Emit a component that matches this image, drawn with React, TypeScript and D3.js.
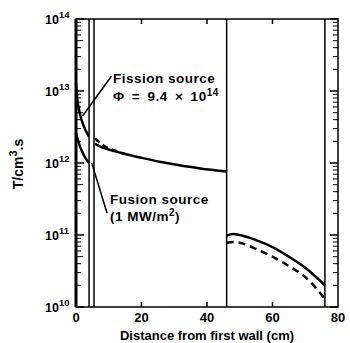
import React from 'react';
import * as d3 from 'd3';

// distance (cm) and tritium production values
const firstX = [0, 0.3, 0.7, 1.2, 2, 3, 4];
const firstSolid = [1.3e13, 8.5e12, 6.2e12, 4.8e12, 3.6e12, 2.8e12, 2.3e12];
const firstDashed = [2.6e12, 2.3e12, 2.0e12, 1.7e12, 1.4e12, 1.15e12, 1.0e12];

const midX = [5.8, 8, 12, 16, 20, 26, 32, 38, 46];
const midSolid = [1.85e12, 1.65e12, 1.45e12, 1.3e12, 1.18e12, 1.03e12, 0.92e12, 0.84e12, 0.76e12];
const midDashed = [2.2e12, 1.8e12, 1.48e12, 1.3e12];

const blanketX = [46, 48, 50, 55, 60, 65, 70, 76];
const blanketSolid = [0.98e11, 1.03e11, 1.0e11, 0.85e11, 0.68e11, 0.5e11, 0.35e11, 0.2e11];
const blanketDashed = [0.78e11, 0.8e11, 0.78e11, 0.64e11, 0.5e11, 0.37e11, 0.26e11, 0.13e11];

const wallLines = [4, 5.5, 46, 76];
const xTicks = [0, 20, 40, 60, 80];
const yExps = [10, 11, 12, 13, 14];

const W = 350, H = 343;
const left = 76, right = 338, top = 19, bottom = 307;
const font = '"Liberation Sans", Arial, sans-serif';

export default function App() {
  const x = d3.scaleLinear().domain([0, 80]).range([left, right]);
  const y = d3.scaleLog().domain([1e10, 1e14]).range([bottom, top]);
  const line = d3.line<[number, number]>()
    .x((d) => x(d[0]))
    .y((d) => y(d[1]))
    .curve(d3.curveMonotoneX);

  const seg = (xs: number[], ys: number[]) => line(xs.map((v, i) => [v, ys[i]] as [number, number])) || '';

  const minor: number[] = [];
  for (let e = 10; e < 14; e++) for (let k = 2; k <= 9; k++) minor.push(k * Math.pow(10, e));

  return (
    <svg width={W} height={H} style={{ position: 'absolute', left: 0, top: 0, background: '#fff' }}>
      {/* frame */}
      <rect x={left} y={top} width={right - left} height={bottom - top} fill="none" stroke="#000" strokeWidth={1.5} />
      <line x1={left} x2={left} y1={top} y2={bottom} stroke="#000" strokeWidth={3} />

      {/* y ticks */}
      {yExps.map((e) => (
        <g key={'ye' + e}>
          <line x1={left} x2={left + 8} y1={y(Math.pow(10, e))} y2={y(Math.pow(10, e))} stroke="#000" strokeWidth={1.5} />
          <line x1={right} x2={right - 8} y1={y(Math.pow(10, e))} y2={y(Math.pow(10, e))} stroke="#000" strokeWidth={1.5} />
          <text x={left - 17} y={y(Math.pow(10, e)) + 5} textAnchor="end" fontFamily={font} fontWeight="bold" fontSize={12.5}>10</text>
          <text x={left - 17} y={y(Math.pow(10, e)) - 1} fontFamily={font} fontWeight="bold" fontSize={9.5}>{e}</text>
        </g>
      ))}
      {minor.map((v, i) => (
        <g key={'ym' + i}>
          <line x1={left} x2={left + (i % 8 === 3 ? 7 : 5)} y1={y(v)} y2={y(v)} stroke="#000" strokeWidth={1} />
          <line x1={right} x2={right - 5} y1={y(v)} y2={y(v)} stroke="#000" strokeWidth={1} />
        </g>
      ))}

      {/* x ticks */}
      {xTicks.map((t) => (
        <g key={'xt' + t}>
          {t > 0 && t < 80 && (
            <>
              <line x1={x(t)} x2={x(t)} y1={bottom} y2={bottom - 5} stroke="#000" strokeWidth={1.5} />
              <line x1={x(t)} x2={x(t)} y1={top} y2={top + 5} stroke="#000" strokeWidth={1.5} />
            </>
          )}
          <text x={x(t)} y={bottom + 15} textAnchor="middle" fontFamily={font} fontWeight="bold" fontSize={13}>{t}</text>
        </g>
      ))}

      {/* region boundaries */}
      {wallLines.map((w, i) => (
        <line key={'w' + i} x1={x(w)} x2={x(w)} y1={top} y2={bottom} stroke="#000" strokeWidth={1.5} />
      ))}

      {/* curves */}
      <path d={seg(firstX, firstSolid)} fill="none" stroke="#000" strokeWidth={2.5} />
      <path d={seg(firstX, firstDashed)} fill="none" stroke="#000" strokeWidth={2.5} />
      <path d={seg(midX, midSolid)} fill="none" stroke="#000" strokeWidth={2.5} />
      <path d={seg(midX.slice(0, 4), midDashed)} fill="none" stroke="#000" strokeWidth={2.5} strokeDasharray="6,4" />
      <path d={seg(blanketX, blanketSolid)} fill="none" stroke="#000" strokeWidth={2.5} />
      <path d={seg(blanketX, blanketDashed)} fill="none" stroke="#000" strokeWidth={2.5} strokeDasharray="7,5" />

      {/* annotations */}
      <line x1={x(10.8)} y1={y(1.6e13)} x2={x(2)} y2={y(4.5e12)} stroke="#000" strokeWidth={1.5} />
      <line x1={x(9.5)} y1={y(2.0e11)} x2={x(4.8)} y2={y(1.0e12)} stroke="#000" strokeWidth={1.5} />
      <g fontFamily={font} fontWeight="bold" fontSize={13.5} letterSpacing={0.5}>
        <text x={113} y={83}>Fission source</text>
        <text x={113} y={101} wordSpacing={3}>
          Φ = 9.4 × 10<tspan dy={-5} fontSize={10}>14</tspan>
        </text>
        <text x={110} y={204}>Fusion source</text>
        <text x={110} y={221}>
          (1 MW/m<tspan dy={-5} fontSize={10}>2</tspan><tspan dy={5}>)</tspan>
        </text>
      </g>

      {/* axis titles */}
      <text transform="translate(23,164) rotate(-90)" textAnchor="middle" fontFamily={font} fontWeight="bold" fontSize={14}>
        T/cm<tspan dy={-6} fontSize={11}>3</tspan><tspan dy={6}>.s</tspan>
      </text>
      <text x={207} y={340} textAnchor="middle" fontFamily={font} fontWeight="bold" fontSize={13}>Distance from first wall (cm)</text>
    </svg>
  );
}
